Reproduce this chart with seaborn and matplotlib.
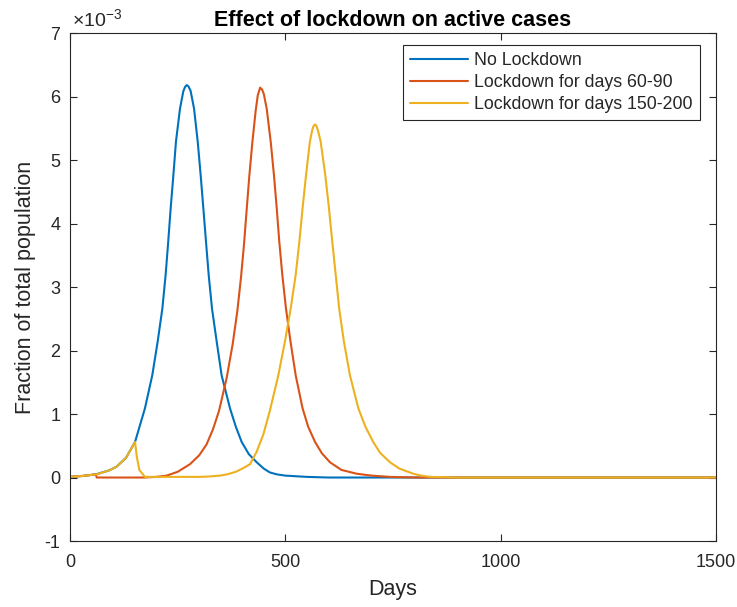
import numpy as np
import pandas as pd
import matplotlib
matplotlib.use("Agg")
import matplotlib.pyplot as plt
import seaborn as sns
from matplotlib.ticker import FuncFormatter, MultipleLocator

# ---- data (active cases, units of 1e-3 of total population) ----
labels = ["No Lockdown", "Lockdown for days 60-90", "Lockdown for days 150-200"]
colors = ["#0072BD", "#D95319", "#EDB120"]

days_none = [0, 30, 60, 90, 108, 130, 151, 174, 191, 203.5, 214.4, 222, 228, 233.7,
             240, 246, 255.4, 263, 267, 271, 275, 280, 288, 296.5, 303.4, 309.6, 315.8,
             322, 329.7, 340.6, 352, 371.5, 385, 398.6, 415, 433.5, 450, 464, 480, 500,
             550, 600, 1500]
vals_none = [0.01, 0.025, 0.05, 0.11, 0.17, 0.31, 0.56, 1.09, 1.61, 2.14, 2.66, 3.19,
             3.71, 4.24, 4.76, 5.29, 5.81, 6.08, 6.15, 6.18, 6.16, 6.09, 5.81, 5.29,
             4.76, 4.24, 3.71, 3.19, 2.66, 2.14, 1.61, 1.09, 0.80, 0.56, 0.37, 0.24,
             0.14, 0.08, 0.05, 0.03, 0.01, 0.0, 0.0]

days_ld1 = [0, 30, 60, 62, 100, 174, 200, 224.5, 250, 278.6, 300, 317, 332, 346, 363.8,
            377.7, 388.5, 397, 404, 410, 416, 423, 431, 436, 441.5, 446, 450, 456.7,
            466, 473.6, 480, 486, 493, 501.5, 512, 524, 540, 553, 569, 585, 603.7, 630,
            665.6, 700, 743, 800, 1500]
vals_ld1 = [0.01, 0.025, 0.05, 0.0, 0.0, 0.0, 0.01, 0.03, 0.09, 0.21, 0.35, 0.52, 0.76,
            1.05, 1.57, 2.10, 2.62, 3.15, 3.67, 4.20, 4.72, 5.25, 5.77, 6.02, 6.14,
            6.11, 6.04, 5.81, 5.29, 4.76, 4.24, 3.71, 3.19, 2.66, 2.14, 1.61, 1.09,
            0.80, 0.56, 0.38, 0.24, 0.12, 0.06, 0.03, 0.01, 0.0, 0.0]

days_ld2 = [0, 30, 62, 90, 108, 130, 151, 155, 161, 174, 240, 270, 302, 320, 348, 365,
            385, 400, 418, 433, 449, 464, 483.7, 499, 512.4, 524, 532.5, 540, 548, 557,
            562, 565, 568.8, 572, 576, 582, 592.8, 601.3, 609, 617, 625, 636, 650,
            669.5, 686, 704, 720, 743, 765, 797, 815, 836, 900, 1500]
vals_ld2 = [0.01, 0.025, 0.05, 0.11, 0.17, 0.31, 0.56, 0.33, 0.12, 0.01, 0.01, 0.01,
            0.01, 0.015, 0.03, 0.05, 0.09, 0.14, 0.21, 0.40, 0.68, 1.05, 1.61, 2.14,
            2.66, 3.19, 3.71, 4.24, 4.76, 5.29, 5.46, 5.53, 5.56, 5.54, 5.46, 5.29,
            4.76, 4.24, 3.71, 3.19, 2.66, 2.14, 1.61, 1.09, 0.80, 0.56, 0.39, 0.24,
            0.14, 0.06, 0.03, 0.01, 0.0, 0.0]

frames = []
for lab, d, v in zip(labels, [days_none, days_ld1, days_ld2],
                     [vals_none, vals_ld1, vals_ld2]):
    frames.append(pd.DataFrame({"Days": d, "value": np.array(v) * 1e-3, "scenario": lab}))
df = pd.concat(frames, ignore_index=True)

sns.set_theme(style="ticks")
plt.rcParams["font.family"] = ["Liberation Sans", "DejaVu Sans"]
plt.rcParams["axes.unicode_minus"] = False
plt.rcParams["mathtext.fontset"] = "custom"
plt.rcParams["mathtext.rm"] = "Liberation Sans"

fig = plt.figure(figsize=(7.37, 6.07), dpi=100)
fig.patch.set_facecolor("white")
ax = fig.add_axes([0.095, 0.1087, 0.8765, 0.8369])

sns.lineplot(data=df, x="Days", y="value", hue="scenario", hue_order=labels,
             palette=colors, linewidth=1.5, ax=ax, sort=False, estimator=None)

ax.set_xlim(0, 1500)
ax.set_ylim(-1e-3, 7e-3)
ax.xaxis.set_major_locator(MultipleLocator(500))
ax.yaxis.set_major_locator(MultipleLocator(1e-3))
ax.yaxis.set_major_formatter(FuncFormatter(lambda v, p: f"{round(v * 1e3):d}"))

axc = "#262626"
for s in ax.spines.values():
    s.set_visible(True)
    s.set_color(axc)
    s.set_linewidth(0.8)
ax.tick_params(direction="in", length=5, width=0.8, colors=axc, labelsize=13,
               top=True, right=True)
ax.tick_params(axis="x", pad=9)
ax.tick_params(axis="y", pad=7)

ax.text(0.003, 1.004, "×10$^{-3}$", transform=ax.transAxes,
        ha="left", va="bottom", fontsize=14, color=axc)

ax.set_xlabel("Days", fontsize=15.5, color=axc, labelpad=6)
ax.set_ylabel("Fraction of total population", fontsize=15.5, color=axc, labelpad=6)
ax.set_title("Effect of lockdown on active cases", fontsize=15.5, fontweight="bold",
             color="black", pad=5)

leg = ax.legend(loc="upper right", bbox_to_anchor=(0.9752, 0.9764), borderaxespad=0,
                fontsize=12.8, frameon=True, fancybox=False, framealpha=1,
                edgecolor=axc, borderpad=0.4, labelspacing=0.28,
                handlelength=3.26, handletextpad=0.34)
leg.get_frame().set_linewidth(0.8)
leg.set_title(None)

fig.savefig("out.png", dpi=100, facecolor="white")
